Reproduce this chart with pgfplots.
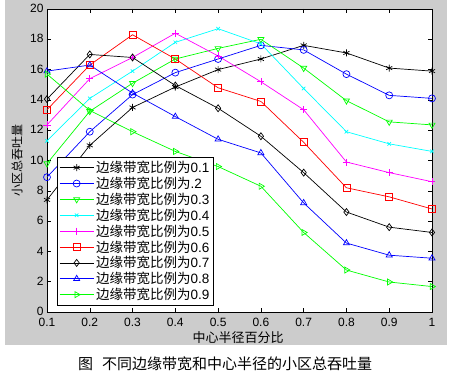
\documentclass[border=0pt]{standalone}
\usepackage{fontspec}
\setmainfont{Liberation Sans}
\newfontfamily\cjk{Noto Sans CJK SC}
\usepackage{pgfplots}
\pgfplotsset{compat=1.18}
\definecolor{figgray}{RGB}{204,204,204}
\definecolor{mgreen}{RGB}{0,255,0}
\definecolor{mcyan}{RGB}{0,255,255}
\definecolor{mmag}{RGB}{255,0,255}
\definecolor{mblue}{RGB}{0,0,255}
\definecolor{mred}{RGB}{255,0,0}
\begin{document}
\begin{tikzpicture}
\fill[white] (-47pt,-63pt) rectangle (407pt,312pt);
\fill[figgray] (-42pt,-33pt) rectangle (400pt,312pt);
\begin{axis}[
  at={(0pt,0pt)}, anchor=south west,
  scale only axis, width=385pt, height=303pt,
  xmin=0.1, xmax=1, ymin=0, ymax=20,
  xtick={0.1,0.2,0.3,0.4,0.5,0.6,0.7,0.8,0.9,1},
  xticklabels={0.1,0.2,0.3,0.4,0.5,0.6,0.7,0.8,0.9,1},
  ytick={0,2,4,6,8,10,12,14,16,18,20},
  tick align=inside, major tick length=4pt,
  tick style={black, line width=0.5pt},
  axis line style={black, line width=0.6pt},
  axis background/.style={fill=white},
  /pgf/number format/assume math mode=true,
  tick label style={font=\fontsize{12}{14}\selectfont},
  xticklabel style={yshift=-2.5pt},
  yticklabel style={yshift=0.5pt},
  every axis plot/.append style={line width=0.7pt, mark size=3.5pt, mark options={solid, line width=0.7pt}},
  legend cell align=left,
  legend style={at={(0.026,0.512)}, anchor=north west, draw=black, line width=0.6pt,
    font=\fontsize{13.5}{15}\selectfont, row sep=-1.1pt, inner sep=2pt},
  legend image code/.code={
    \draw[mark repeat=2, mark phase=2] plot coordinates {(0pt,0pt) (17pt,0pt) (34pt,0pt)};
  },
]
\addplot[black, mark=asterisk] coordinates {(0.1,7.4)(0.2,11.0)(0.3,13.5)(0.4,14.85)(0.5,16.0)(0.6,16.7)(0.7,17.6)(0.8,17.1)(0.9,16.1)(1,15.9)};
\addlegendentry{{\cjk 边缘带宽比例为}0.1\hspace{6pt}}
\addplot[mblue, mark=o] coordinates {(0.1,8.9)(0.2,11.9)(0.3,14.35)(0.4,15.8)(0.5,16.7)(0.6,17.6)(0.7,17.3)(0.8,15.7)(0.9,14.3)(1,14.1)};
\addlegendentry{{\cjk 边缘带宽比例为}.2}
\addplot[mgreen, mark=triangle, mark options={rotate=180}] coordinates {(0.1,9.8)(0.2,13.25)(0.3,15.1)(0.4,16.7)(0.5,17.4)(0.6,18.0)(0.7,16.1)(0.8,13.95)(0.9,12.55)(1,12.35)};
\addlegendentry{{\cjk 边缘带宽比例为}0.3}
\addplot[mcyan, mark=x, mark size=2.5pt] coordinates {(0.1,11.3)(0.2,14.1)(0.3,15.9)(0.4,17.8)(0.5,18.7)(0.6,17.7)(0.7,14.75)(0.8,11.9)(0.9,11.1)(1,10.6)};
\addlegendentry{{\cjk 边缘带宽比例为}0.4}
\addplot[mmag, mark=+] coordinates {(0.1,12.35)(0.2,15.4)(0.3,16.8)(0.4,18.4)(0.5,16.9)(0.6,15.2)(0.7,13.35)(0.8,9.9)(0.9,9.2)(1,8.6)};
\addlegendentry{{\cjk 边缘带宽比例为}0.5}
\addplot[mred, mark=square] coordinates {(0.1,13.35)(0.2,16.3)(0.3,18.3)(0.4,16.7)(0.5,14.8)(0.6,13.9)(0.7,11.2)(0.8,8.2)(0.9,7.6)(1,6.8)};
\addlegendentry{{\cjk 边缘带宽比例为}0.6}
\addplot[black, mark=diamond] coordinates {(0.1,14.05)(0.2,17.0)(0.3,16.8)(0.4,14.95)(0.5,13.45)(0.6,11.6)(0.7,9.2)(0.8,6.6)(0.9,5.6)(1,5.25)};
\addlegendentry{{\cjk 边缘带宽比例为}0.7}
\addplot[mblue, mark=triangle] coordinates {(0.1,15.9)(0.2,16.3)(0.3,14.45)(0.4,12.9)(0.5,11.4)(0.6,10.5)(0.7,7.2)(0.8,4.55)(0.9,3.75)(1,3.55)};
\addlegendentry{{\cjk 边缘带宽比例为}0.8}
\addplot[mgreen, mark=triangle, mark options={rotate=-90}] coordinates {(0.1,15.7)(0.2,13.3)(0.3,11.9)(0.4,10.6)(0.5,9.6)(0.6,8.3)(0.7,5.25)(0.8,2.77)(0.9,1.98)(1,1.68)};
\addlegendentry{{\cjk 边缘带宽比例为}0.9}
\end{axis}
\node[font=\cjk\fontsize{13}{15}\selectfont] at (191pt,-26pt) {中心半径百分比};
\node[font=\cjk\fontsize{12}{14}\selectfont, rotate=90] at (-30pt,151.5pt) {小区总吞吐量};
\node[font=\cjk\fontsize{15}{17}\selectfont] at (178pt,-52pt) {图\hspace{0.6em}不同边缘带宽和中心半径的小区总吞吐量};
\end{tikzpicture}
\end{document}
